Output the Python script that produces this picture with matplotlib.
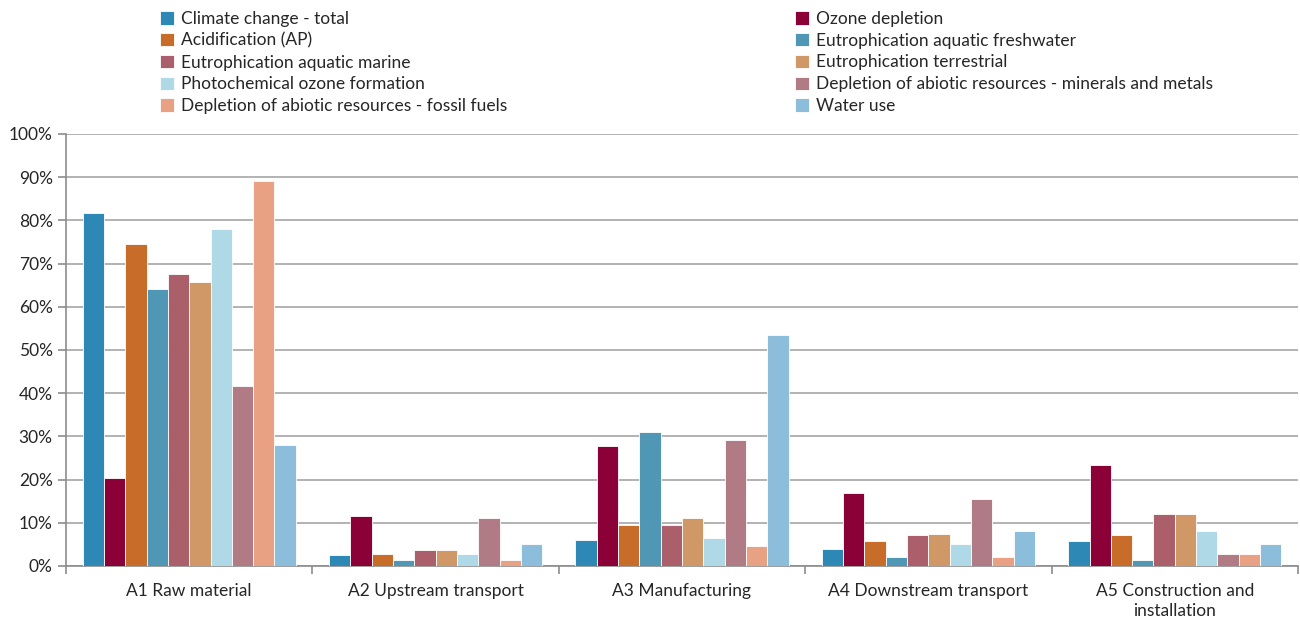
import numpy as np
import matplotlib.pyplot as plt
from matplotlib.ticker import PercentFormatter

plt.rcParams['font.family'] = ['Lato', 'DejaVu Sans']

# Data (share of total, %)
stages = ['A1 Raw material', 'A2 Upstream transport', 'A3 Manufacturing',
          'A4 Downstream transport', 'A5 Construction and\ninstallation']

categories = ['Climate change - total', 'Ozone depletion', 'Acidification (AP)',
              'Eutrophication aquatic freshwater', 'Eutrophication aquatic marine',
              'Eutrophication terrestrial', 'Photochemical ozone formation',
              'Depletion of abiotic resources - minerals and metals',
              'Depletion of abiotic resources - fossil fuels', 'Water use']

colors = ['#2E88B5', '#8B0036', '#C86C2A', '#4F97B5', '#AA5F6A',
          '#D09866', '#B0D9E8', '#B07B84', '#E9A184', '#8CBEDB']

a1 = [81.8, 20.3, 74.6, 64.2, 67.7, 65.8, 77.9, 41.6, 89.2, 28.1]
a2 = [2.5, 11.6, 2.8, 1.4, 3.6, 3.6, 2.7, 11.0, 1.4, 5.2]
a3 = [6.1, 27.8, 9.4, 31.1, 9.4, 11.0, 6.4, 29.2, 4.7, 53.5]
a4 = [3.9, 16.8, 5.7, 2.0, 7.1, 7.4, 5.2, 15.6, 2.0, 8.0]
a5 = [5.7, 23.4, 7.1, 1.3, 12.1, 12.1, 8.0, 2.7, 2.7, 5.0]

values = np.array([a1, a2, a3, a4, a5])  # rows = stages, cols = categories

fig = plt.figure(figsize=(13, 6.21), dpi=100)
ax = fig.add_axes([66 / 1300, 1 - 566 / 621, (1298 - 66) / 1300, (566 - 134) / 621])

x = np.arange(len(stages))
n = len(categories)
bw = 0.0865
handles = []
for i, cat in enumerate(categories):
    offs = (i - (n - 1) / 2) * bw
    b = ax.bar(x + offs, values[:, i], width=bw, color=colors[i],
               edgecolor='white', linewidth=0.6, label=cat, zorder=3)
    handles.append(b)

ax.set_xlim(-0.5, len(stages) - 0.5)
ax.set_ylim(0, 100)
ax.set_yticks(np.arange(0, 101, 10))
ax.yaxis.set_major_formatter(PercentFormatter(decimals=0))
ax.grid(axis='y', color='#a6a6a6', linewidth=1.2, zorder=0)

# category labels between boundary ticks
ax.set_xticks(x)
ax.set_xticklabels(stages, fontsize=12.5, color='#262626', linespacing=1.35)
ax.tick_params(axis='x', length=0, pad=12)
ax.set_xticks(np.arange(-0.5, len(stages)), minor=True)
ax.tick_params(axis='x', which='minor', length=6, color='#8c8c8c', width=1.2)
ax.tick_params(axis='y', length=6, color='#8c8c8c', width=1.2,
               labelsize=12.5, labelcolor='#262626')

for side in ['top', 'right']:
    ax.spines[side].set_visible(False)
for side in ['left', 'bottom']:
    ax.spines[side].set_color('#8c8c8c')
    ax.spines[side].set_linewidth(1.2)

# legend: two columns, row-major order
left = [handles[i] for i in range(0, n, 2)]
right = [handles[i] for i in range(1, n, 2)]
kw = dict(loc='upper left', frameon=False, fontsize=12.5, handlelength=0.8,
          handleheight=0.8, handletextpad=0.4, labelspacing=0.33,
          borderaxespad=0, borderpad=0, labelcolor='#262626')
leg1 = fig.legend(left, [h.get_label() for h in left],
                  bbox_to_anchor=(160 / 1300, 1 - 11 / 621), **kw)
leg2 = fig.legend(right, [h.get_label() for h in right],
                  bbox_to_anchor=(795 / 1300, 1 - 11 / 621), **kw)

fig.savefig('out.png', dpi=100)
